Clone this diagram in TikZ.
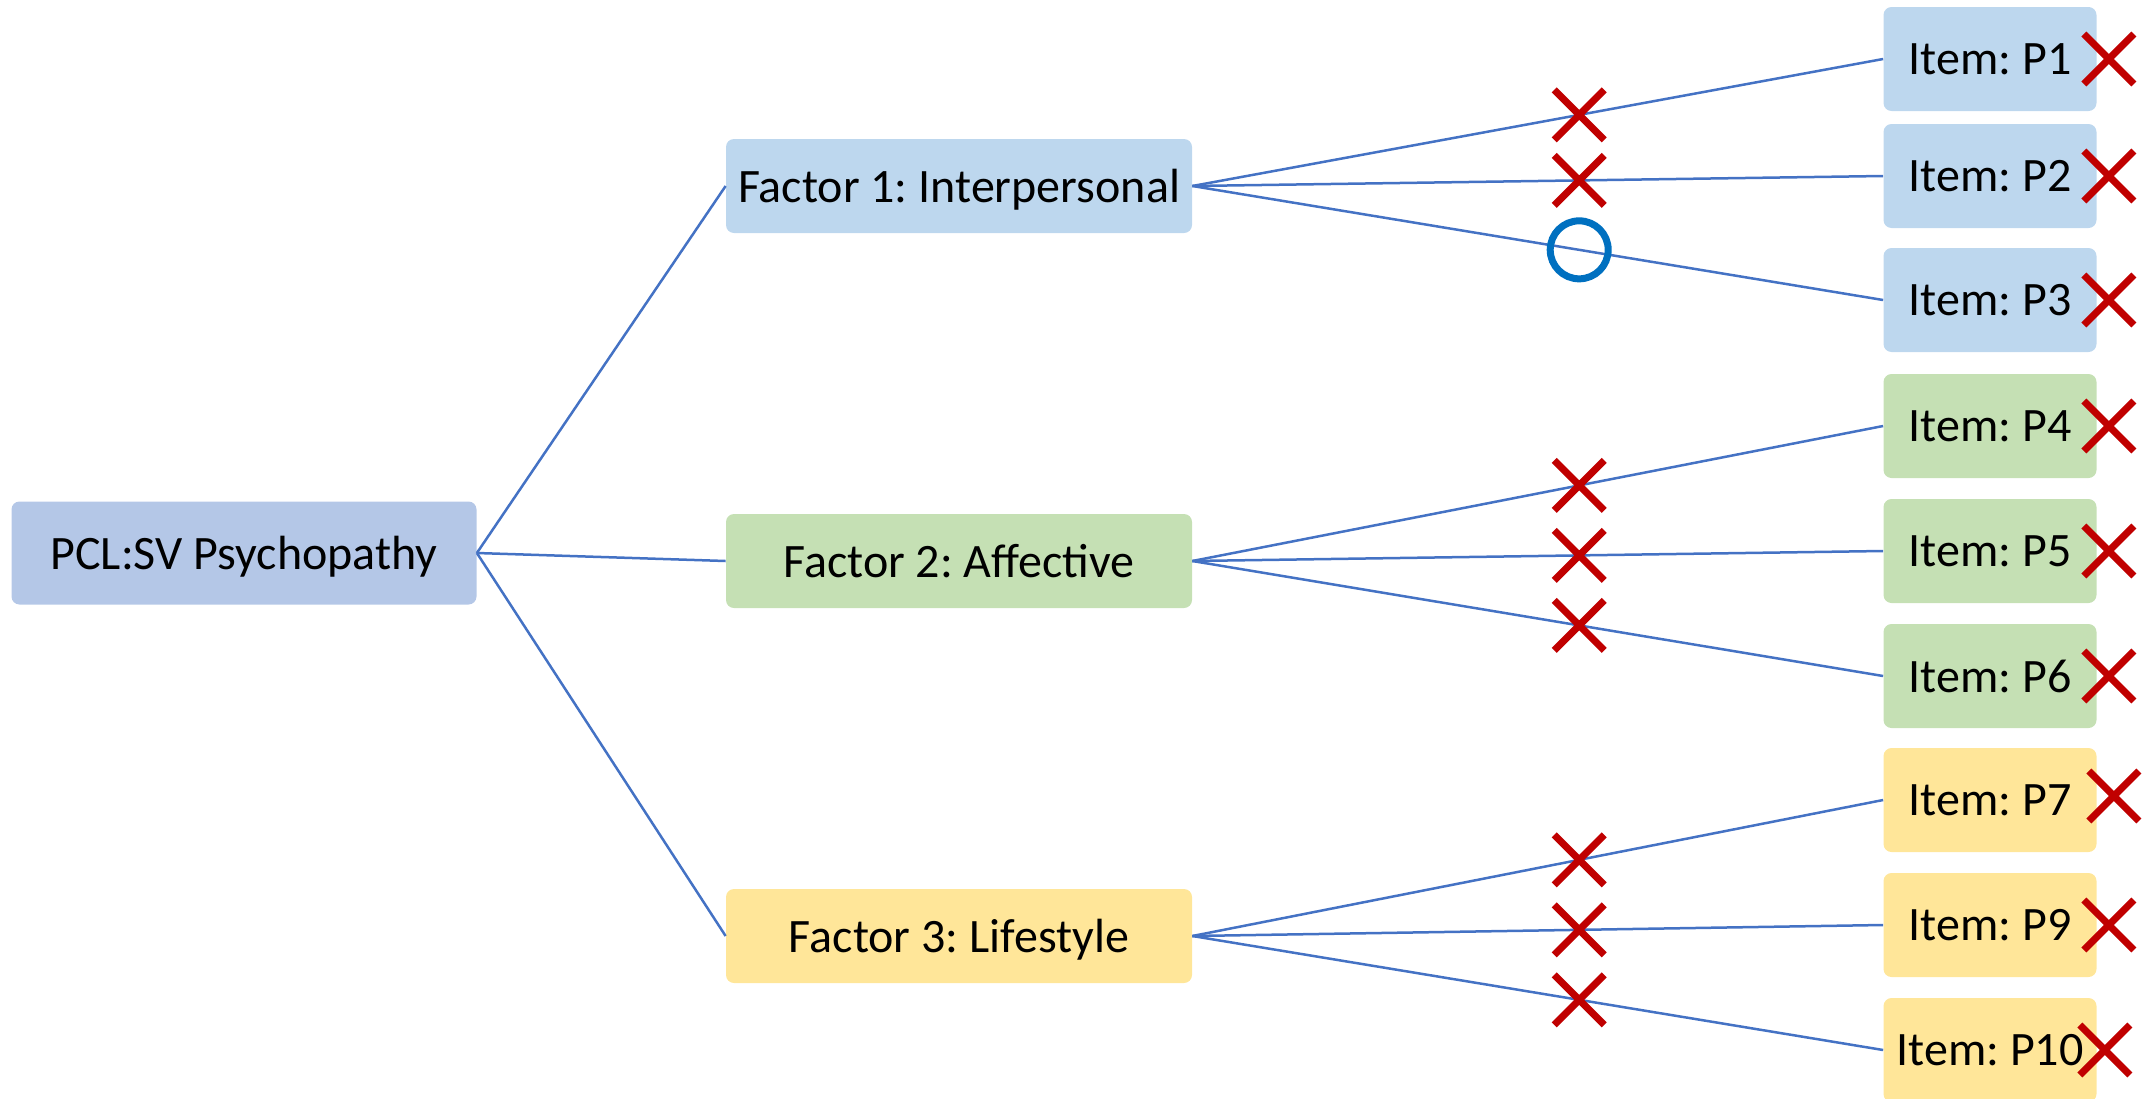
\documentclass[tikz,border=0pt]{standalone}
\usepackage{fontspec}
\setmainfont{Carlito}
\frenchspacing
\usetikzlibrary{shapes.misc}

\definecolor{rootblue}{HTML}{B4C7E7}
\definecolor{interblue}{HTML}{BDD7EE}
\definecolor{affgreen}{HTML}{C5E0B4}
\definecolor{lifegold}{HTML}{FFE699}
\definecolor{linkblue}{HTML}{4472C4}
\definecolor{markred}{HTML}{C00000}
\definecolor{markblue}{HTML}{0070C0}

\tikzset{every picture/.style={line width=0.75pt}}

\begin{document}
\begin{tikzpicture}[x=1pt,y=1pt,yscale=-1,xscale=1,
	box/.style={rounded corners=8pt, inner sep=0pt, text depth=0pt, font=\fontsize{48}{57}\selectfont},
	rootbox/.style={box, fill=rootblue, minimum width=465pt, minimum height=103pt},
	factorbox/.style={box, minimum width=466pt, minimum height=94pt},
	itembox/.style={box, minimum width=213pt, minimum height=104pt},
	link/.style={draw=linkblue, line width=2.5pt},
	nomark/.style={cross out, draw=markred, line width=7pt, minimum size=43pt, inner sep=0pt},
	okmark/.style={circle, draw=markblue, line width=7pt, minimum size=58pt, inner sep=0pt}]
	\useasboundingbox (0,0) rectangle (2153,1098);

	% Root
	\node[rootbox] (root) at (244,553) {PCL:SV Psychopathy};

	% Factors
	\node[factorbox, fill=interblue] (f1) at (959,186) {Factor 1: Interpersonal};
	\node[factorbox, fill=affgreen] (f2) at (959,561) {Factor 2: Affective};
	\node[factorbox, fill=lifegold] (f3) at (959,936) {Factor 3: Lifestyle};

	% Items
	\node[itembox, fill=interblue] (p1) at (1990,59) {Item: P1};
	\node[itembox, fill=interblue] (p2) at (1990,176) {Item: P2};
	\node[itembox, fill=interblue] (p3) at (1990,300) {Item: P3};
	\node[itembox, fill=affgreen] (p4) at (1990,426) {Item: P4};
	\node[itembox, fill=affgreen] (p5) at (1990,551) {Item: P5};
	\node[itembox, fill=affgreen] (p6) at (1990,676) {Item: P6};
	\node[itembox, fill=lifegold] (p7) at (1990,800) {Item: P7};
	\node[itembox, fill=lifegold] (p9) at (1990,925) {Item: P9};
	\node[itembox, fill=lifegold] (p10) at (1990,1050) {Item: P10};

	% Root to factors
	\draw[link] (root.east) -- (f1.west);
	\draw[link] (root.east) -- (f2.west);
	\draw[link] (root.east) -- (f3.west);

	% Factors to items, with marks
	\draw[link] (f1.east) -- node[nomark, pos=.56] (c1) {} (p1.west);
	\draw[link] (f1.east) -- node[nomark, pos=.56] (c2) {} (p2.west);
	\draw[link] (f1.east) -- node[okmark, pos=.56] (c3) {} (p3.west);
	\draw[link] (f2.east) -- node[nomark, pos=.56] (c4) {} (p4.west);
	\draw[link] (f2.east) -- node[nomark, pos=.56] (c5) {} (p5.west);
	\draw[link] (f2.east) -- node[nomark, pos=.56] (c6) {} (p6.west);
	\draw[link] (f3.east) -- node[nomark, pos=.56] (c7) {} (p7.west);
	\draw[link] (f3.east) -- node[nomark, pos=.56] (c9) {} (p9.west);
	\draw[link] (f3.east) -- node[nomark, pos=.56] (c10) {} (p10.west);

	% Item marks
	\node[nomark] (m1) at ([xshift=12pt]p1.east) {};
	\node[nomark] (m2) at ([xshift=12pt]p2.east) {};
	\node[nomark] (m3) at ([xshift=12pt]p3.east) {};
	\node[nomark] (m4) at ([xshift=12pt]p4.east) {};
	\node[nomark] (m5) at ([xshift=12pt]p5.east) {};
	\node[nomark] (m6) at ([xshift=12pt]p6.east) {};
	\node[nomark] (m7) at ([xshift=17pt,yshift=-4pt]p7.east) {};
	\node[nomark] (m9) at ([xshift=12pt]p9.east) {};
	\node[nomark] (m10) at ([xshift=8pt]p10.east) {};

\end{tikzpicture}
\end{document}
